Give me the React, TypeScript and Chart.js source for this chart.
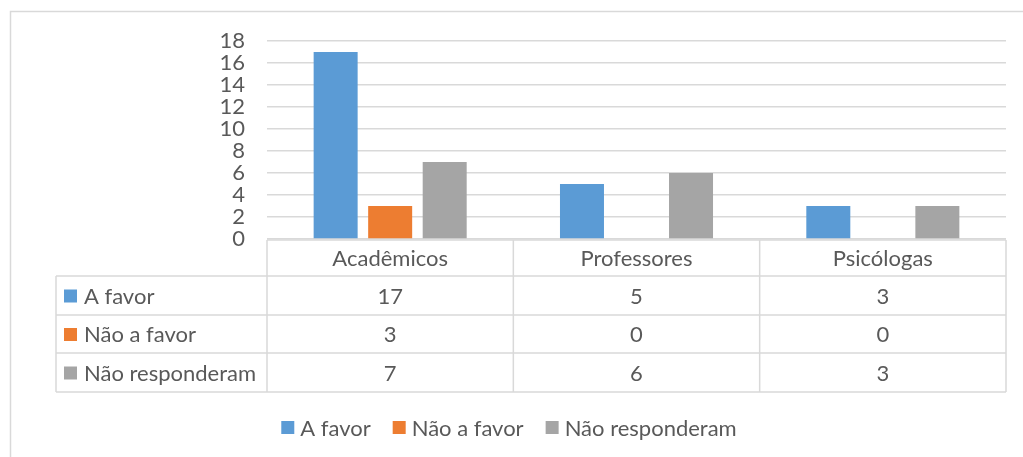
import React, { useEffect, useRef } from 'react';
import { Chart, registerables } from 'chart.js';

Chart.register(...registerables);

const categories = ['Acadêmicos', 'Professores', 'Psicólogas'];
const seriesNames = ['A favor', 'Não a favor', 'Não responderam'];
const aFavor = [17, 5, 3];
const naoAFavor = [3, 0, 0];
const naoResponderam = [7, 6, 3];
const seriesColors = ['#5B9BD5', '#ED7D31', '#A5A5A5'];
const yMax = 18;
const yStep = 2;

const FONT = 'Lato, "Noto Sans", sans-serif';
const FONT_SIZE = 22;
const TEXT = '#595959';
const LINE = '#D9D9D9';

const tablePlugin = {
  id: 'dataTable',
  afterDraw(chart: any) {
    const ctx = chart.ctx as CanvasRenderingContext2D;
    const area = chart.chartArea;
    const xs = chart.scales.x;
    const n = categories.length;
    const colW = (area.right - area.left) / n;
    const b = area.bottom;
    const yEdges = [b + 1, b + 37, b + 76, b + 114, b + 153];
    const tableLeft = 56;
    ctx.save();
    // outer chart frame
    ctx.strokeStyle = LINE;
    ctx.lineWidth = 1.5;
    ctx.strokeRect(10.5, 11.5, 1200, 600);

    ctx.strokeStyle = LINE;
    ctx.lineWidth = 1.5;
    ctx.beginPath();
    ctx.moveTo(area.left, yEdges[0]);
    ctx.lineTo(area.right, yEdges[0]);
    for (let r = 1; r < yEdges.length; r++) {
      ctx.moveTo(tableLeft, yEdges[r]);
      ctx.lineTo(area.right, yEdges[r]);
    }
    ctx.moveTo(tableLeft, yEdges[1]);
    ctx.lineTo(tableLeft, yEdges[4]);
    for (let i = 0; i <= n; i++) {
      const xx = area.left + i * colW;
      ctx.moveTo(xx, yEdges[0]);
      ctx.lineTo(xx, yEdges[4]);
    }
    ctx.stroke();

    ctx.font = `${FONT_SIZE}px ${FONT}`;
    ctx.fillStyle = TEXT;
    ctx.textBaseline = 'middle';
    ctx.textAlign = 'center';
    categories.forEach((c, i) => {
      const cx = xs.getPixelForValue(i);
      ctx.fillText(c, cx, (yEdges[0] + yEdges[1]) / 2 + 1);
    });
    chart.data.datasets.forEach((ds: any, r: number) => {
      const cy = (yEdges[r + 1] + yEdges[r + 2]) / 2 + 1;
      ds.data.forEach((v: number, i: number) => {
        ctx.textAlign = 'center';
        ctx.fillStyle = TEXT;
        ctx.fillText(String(v), xs.getPixelForValue(i), cy);
      });
      ctx.fillStyle = ds.backgroundColor;
      ctx.fillRect(64, cy - 7, 13, 13);
      ctx.fillStyle = TEXT;
      ctx.textAlign = 'left';
      ctx.fillText(ds.label, 84, cy);
    });

    // bottom legend
    const legendY = 428;
    const box = 13;
    const gapBoxText = 6;
    const gapItems = 22;
    const widths = chart.data.datasets.map((ds: any) => box + gapBoxText + ctx.measureText(ds.label).width);
    const total = widths.reduce((a: number, w: number) => a + w, 0) + gapItems * (widths.length - 1);
    let lx = 509 - total / 2;
    chart.data.datasets.forEach((ds: any, i: number) => {
      ctx.fillStyle = ds.backgroundColor;
      ctx.fillRect(lx, legendY - 7, box, box);
      ctx.fillStyle = TEXT;
      ctx.textAlign = 'left';
      ctx.fillText(ds.label, lx + box + gapBoxText, legendY + 1);
      lx += widths[i] + gapItems;
    });
    ctx.restore();
  },
};

export default function App() {
  const ref = useRef<HTMLCanvasElement | null>(null);
  useEffect(() => {
    if (!ref.current) return;
    const seriesValues = [aFavor, naoAFavor, naoResponderam];
    const chart = new Chart(ref.current, {
      type: 'bar',
      data: {
        labels: categories,
        datasets: seriesNames.map((name, i) => ({
          label: name,
          data: seriesValues[i],
          backgroundColor: seriesColors[i],
          borderWidth: 0,
          categoryPercentage: 0.664,
          barPercentage: 0.807,
        })),
      },
      options: {
        animation: false,
        responsive: true,
        maintainAspectRatio: false,
        layout: { padding: { left: 0, right: 17, top: 41, bottom: 218 } },
        plugins: { legend: { display: false }, tooltip: { enabled: false } },
        scales: {
          x: { display: false },
          y: {
            min: 0,
            max: yMax,
            ticks: {
              stepSize: yStep,
              autoSkip: false,
              padding: 22,
              color: TEXT,
              font: { family: FONT, size: FONT_SIZE },
            },
            grid: { color: LINE, lineWidth: 1.5, drawTicks: false },
            border: { display: false },
            afterFit(scale: any) {
              scale.width = 267;
            },
          },
        },
      },
      plugins: [tablePlugin],
    });
    return () => chart.destroy();
  }, []);
  return (
    <div style={{ position: 'absolute', left: 0, top: 0, width: 1023, height: 457 }}>
      <canvas ref={ref} />
    </div>
  );
}
